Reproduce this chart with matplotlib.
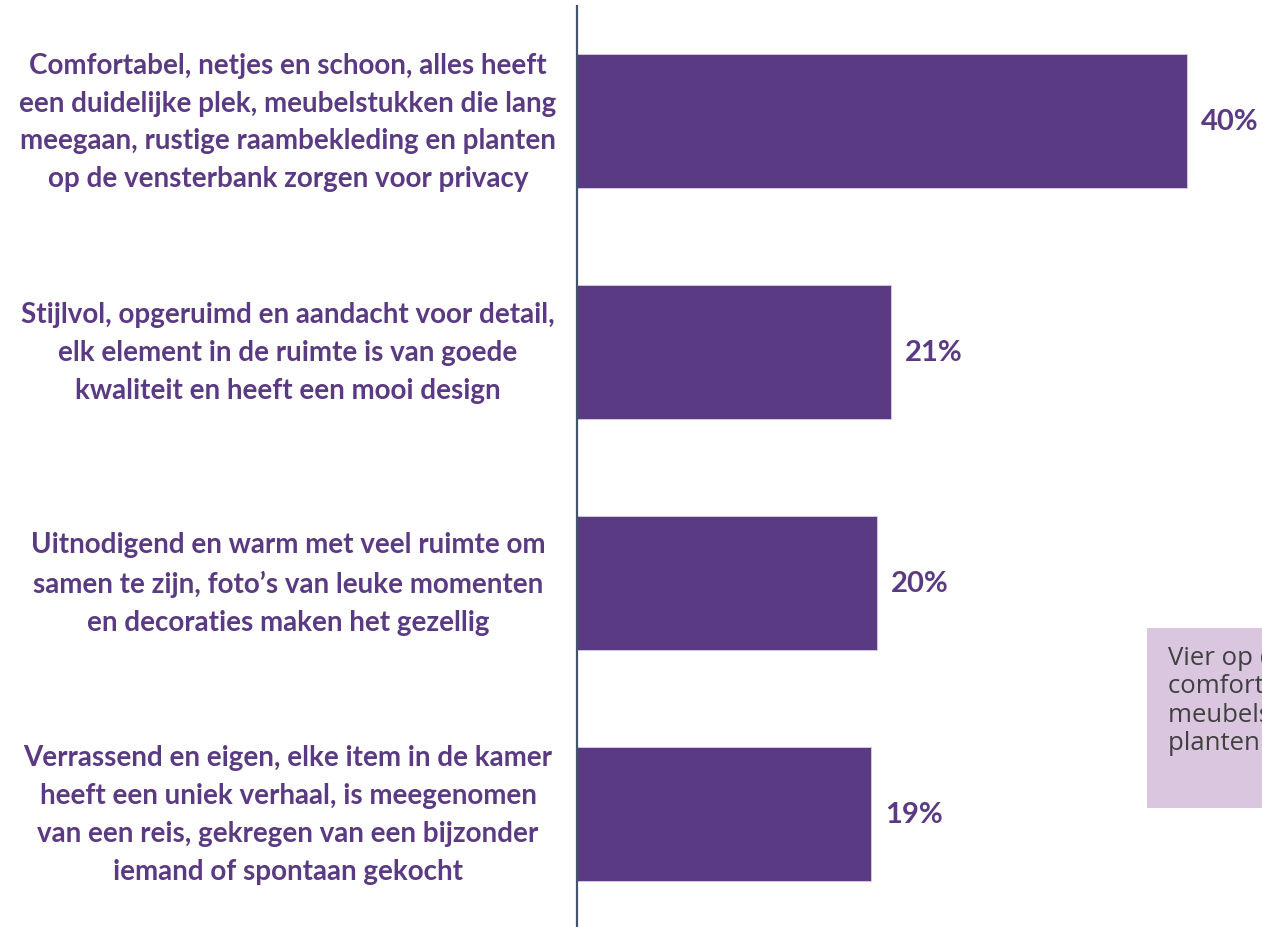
import matplotlib
matplotlib.use("Agg")
import matplotlib.pyplot as plt
from matplotlib.patches import Rectangle
from matplotlib.transforms import blended_transform_factory

# Data
categories = [
    "Comfortabel, netjes en schoon, alles heeft\neen duidelijke plek, meubelstukken die lang\nmeegaan, rustige raambekleding en planten\nop de vensterbank zorgen voor privacy",
    "Stijlvol, opgeruimd en aandacht voor detail,\nelk element in de ruimte is van goede\nkwaliteit en heeft een mooi design",
    "Uitnodigend en warm met veel ruimte om\nsamen te zijn, foto\u2019s van leuke momenten\nen decoraties maken het gezellig",
    "Verrassend en eigen, elke item in de kamer\nheeft een uniek verhaal, is meegenomen\nvan een reis, gekregen van een bijzonder\niemand of spontaan gekocht",
]
values = [40.0, 20.6, 19.7, 19.3]
callout = "Vier op de tien Nederlanders\ncomfortabel, netjes en schoon\nmeubelstukken die lang meegaan\nplanten op de vensterbank"

purple = "#5B3A84"
W, H = 1262, 928

fig = plt.figure(figsize=(W / 100, H / 100), dpi=100)
ax = fig.add_axes([577 / W, 0, 1 - 577 / W, 1 - 7 / H])

pos = list(range(len(values)))
ax.barh(pos, values, height=0.58, color=purple, edgecolor="#D9CCEA", linewidth=0.6)
ax.set_xlim(0, (W - 577) / 15.25)
ax.set_ylim(3.49, -0.5)

for p, v in zip(pos, values):
    ax.text(v + 0.9, p, f"{round(v):.0f}%", ha="left", va="center",
            fontsize=21, fontweight="bold", color=purple, family="Lato")

trans = blended_transform_factory(fig.transFigure, ax.transData)
for p, c in zip(pos, categories):
    ax.text(288 / W, p, c, transform=trans, ha="center", va="center",
            fontsize=20, fontweight="bold", color=purple, family="Lato",
            linespacing=1.56, multialignment="center")

for s in ["top", "right", "bottom"]:
    ax.spines[s].set_visible(False)
ax.spines["left"].set_color("#44546A")
ax.spines["left"].set_linewidth(1.6)
ax.set_xticks([])
ax.set_yticks([])

# callout box, cut off by the right edge like in the source slide
fig.patches.append(Rectangle((1147 / W, (H - 809) / H), 200 / W, 180 / H,
                             transform=fig.transFigure, facecolor="#DBC6E0",
                             edgecolor="none", zorder=0))
fig.text(1168 / W, (H - 646) / H, callout, ha="left", va="top",
         fontsize=18.5, color="#404040", family="Open Sans", linespacing=1.18)

fig.savefig("out.png", dpi=100)
